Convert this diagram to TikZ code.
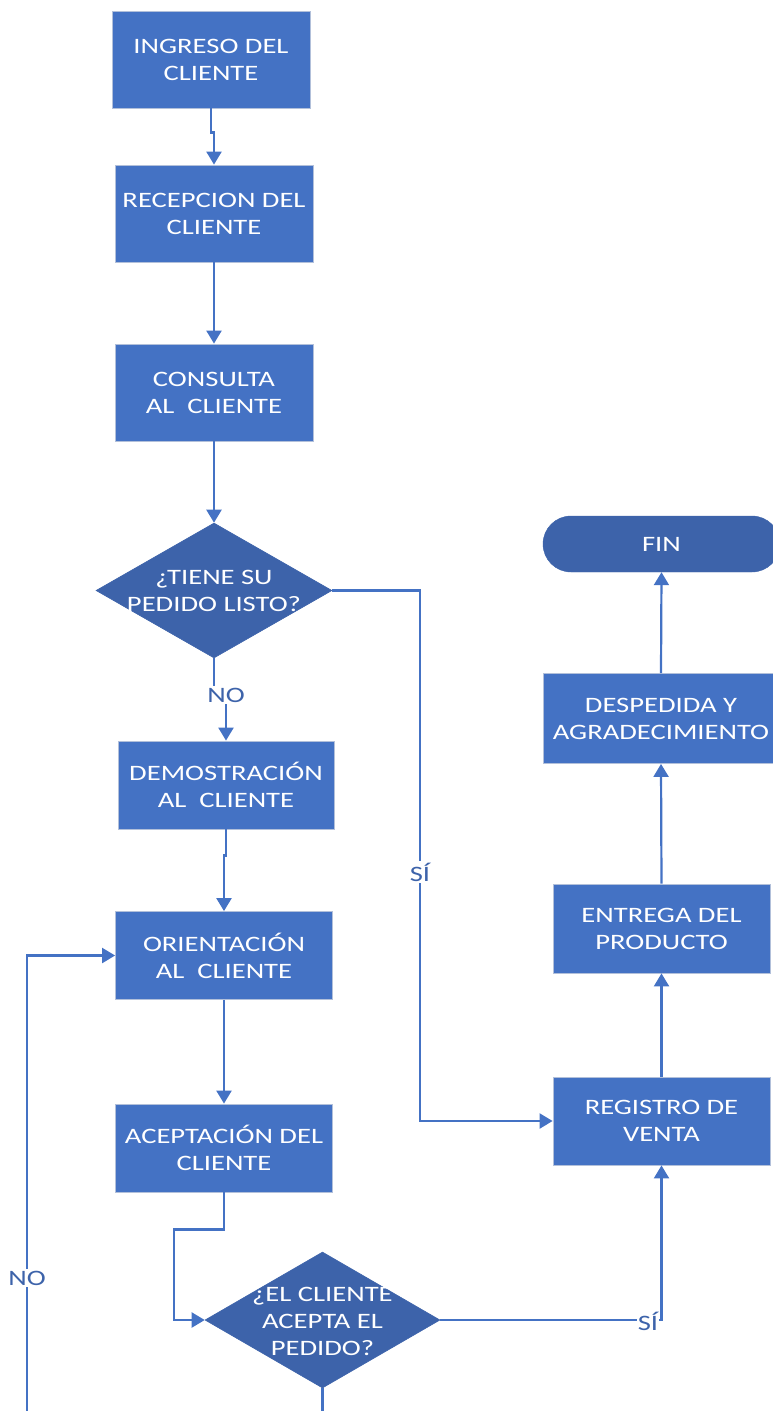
\documentclass[tikz,border=0pt]{standalone}
\usepackage{fontspec}
\newfontfamily\calfont[FakeStretch=1.3]{Carlito}
\usetikzlibrary{shapes.geometric,arrows.meta}
\definecolor{boxblue}{RGB}{68,114,196}
\definecolor{darkblue}{RGB}{61,99,170}
\definecolor{edgegray}{RGB}{178,192,218}
\begin{document}
\begin{tikzpicture}[x=1pt,y=-1pt,
  txtfont/.style={font=\calfont\fontsize{22}{27}\selectfont},
  procbox/.style={rectangle, fill=boxblue, draw=edgegray, line width=0.8pt, inner sep=0pt,
    text=white, align=center, txtfont},
  dia/.style={diamond, fill=darkblue, draw=darkblue, line width=0.6pt, inner sep=0pt,
    minimum width=236pt, minimum height=135pt},
  diatext/.style={text=white, align=center, txtfont, inner sep=0pt},
  term/.style={rectangle, rounded corners=28pt, fill=darkblue, draw=darkblue, inner sep=0pt,
    text=white, txtfont, minimum width=237pt, minimum height=56pt},
  conn/.style={draw=boxblue, line width=2.2pt, -{Triangle[width=15pt,length=13pt]}},
  lbl/.style={fill=white, text=darkblue, txtfont, inner sep=2pt}
]
\useasboundingbox (0,0) rectangle (773,1411);
\clip (0,0) rectangle (773,1411);

% process boxes
\node[procbox, minimum width=198pt, minimum height=97pt] (b1) at (211,59.5) {INGRESO DEL\\CLIENTE};
\node[procbox, minimum width=198pt, minimum height=97pt] (b2) at (214,213.5) {RECEPCION DEL\\CLIENTE};
\node[procbox, minimum width=198pt, minimum height=97pt] (b3) at (214,392.5) {CONSULTA\\AL\ \ CLIENTE};
\node[dia] (d1) at (214,590.5) {};
\node[diatext] (d1t) at (214,591) {¿TIENE SU\\PEDIDO LISTO?};
\node[procbox, minimum width=216pt, minimum height=88pt] (b4) at (226,785) {DEMOSTRACIÓN\\AL\ \ CLIENTE};
\node[procbox, minimum width=217pt, minimum height=88pt] (b5) at (224,955.5) {ORIENTACIÓN\\AL\ \ CLIENTE};
\node[procbox, minimum width=217pt, minimum height=88pt] (b6) at (224,1148) {ACEPTACIÓN DEL\\CLIENTE};
\node[dia, minimum width=235pt, minimum height=136pt] (d2) at (322.5,1320) {};
\node[diatext] (d2t) at (322.5,1321) {¿EL CLIENTE\\ACEPTA EL\\PEDIDO?};

\node[procbox, minimum width=217pt, minimum height=88pt] (b7) at (661.5,1121) {REGISTRO DE\\VENTA};
\node[procbox, minimum width=217pt, minimum height=89pt] (b8) at (661.5,928.5) {ENTREGA DEL\\PRODUCTO};
\node[procbox, minimum width=236pt, minimum height=90pt] (b9) at (661,718.5) {DESPEDIDA Y\\AGRADECIMIENTO};
\node[term] (fin) at (661.5,544) {FIN};

% label anchor coordinates
\coordinate (no1c) at (226,695);
\coordinate (si1c) at (420,872);
\coordinate (no2c) at (27,1278);
\coordinate (si2c) at (648,1321);
\coordinate (loopc) at (27,1450);

% connectors
\draw[conn] (b1.south) -- ++(0,24) -| (b2.north);
\draw[conn] (b2.south) -- (b3.north);
\draw[conn] (b3.south) -- (d1.north);
\draw[conn] (d1.south) |- (no1c) -- (b4.north);
\draw[conn] (b4.south) -- ++(0,26) -| (b5.north);
\draw[conn] (b5.south) -- (b6.north);
\draw[conn] (b6.south) -- ++(0,37) -| ([xshift=-31pt]d2.west) -- (d2.west);
\draw[conn] (d2.south) |- (loopc) |- (b5.west);
\draw[conn] (d1.east) -- ++(88,0) |- (b7.west);
\draw[conn] (d2.east) -| (b7.south);
\draw[conn] (b7.north) -- (b8.south);
\draw[conn] (b8.north) -- (b9.south);
\draw[conn] (b9.north) -- (fin.south);

% labels
\node[lbl] (no1) at (no1c) {NO};
\node[lbl] (si1) at (si1c) {SÍ};
\node[lbl] (no2) at (no2c) {NO};
\node[lbl, inner sep=1pt] (si2) at (si2c) {SÍ};
\end{tikzpicture}
\end{document}
